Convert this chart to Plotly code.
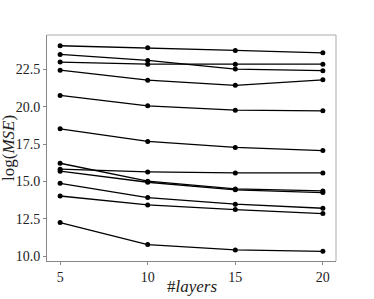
import plotly.graph_objects as go

layers = [5, 10, 15, 20]
series = [
    [24.08, 23.95, 23.77, 23.61],
    [23.50, 23.10, 22.52, 22.41],
    [22.99, 22.85, 22.85, 22.85],
    [22.45, 21.78, 21.43, 21.80],
    [20.76, 20.06, 19.77, 19.73],
    [18.52, 17.68, 17.28, 17.07],
    [16.22, 15.02, 14.50, 14.37],
    [15.82, 15.64, 15.57, 15.57],
    [15.69, 14.95, 14.44, 14.26],
    [14.88, 13.92, 13.48, 13.21],
    [14.03, 13.43, 13.12, 12.85],
    [12.25, 10.78, 10.42, 10.33],
]
xticks = [5, 10, 15, 20]
yticks = [10.0, 12.5, 15.0, 17.5, 20.0, 22.5]
xlabel = "#<i>layers</i>"
ylabel = "log(<i>MSE</i>)"

fig = go.Figure()
for s in series:
    fig.add_trace(go.Scatter(
        x=layers, y=s, mode="lines+markers",
        line=dict(color="black", width=1.3),
        marker=dict(color="black", size=5),
        showlegend=False,
    ))

font = "Liberation Serif"
tickfont = dict(family=font, size=14, color="#222")
fig.update_layout(
    width=374, height=299,
    margin=dict(l=47, r=38, t=35, b=38),
    paper_bgcolor="white", plot_bgcolor="white",
    font=dict(family=font, size=14, color="#222"),
    xaxis=dict(
        range=[4.25, 20.75], tickvals=xticks, ticktext=[str(v) for v in xticks],
        automargin=False, tickfont=tickfont,
        showgrid=False, zeroline=False, showline=True, linecolor="#888", linewidth=1,
        ticks="outside", ticklen=3, tickcolor="#888",
    ),
    yaxis=dict(
        range=[9.68, 24.8], tickvals=yticks, ticktext=[f"{v:.1f}" for v in yticks],
        automargin=False, tickfont=tickfont,
        showgrid=False, zeroline=False, showline=True, linecolor="#888", linewidth=1,
        ticks="outside", ticklen=3, tickcolor="#888",
    ),
)
fig.add_annotation(text=xlabel, xref="paper", yref="paper", x=0.5, y=0,
                   xanchor="center", yanchor="middle", yshift=-25, showarrow=False,
                   font=dict(family=font, size=17, color="#222"))
fig.add_annotation(text=ylabel, xref="paper", yref="paper", x=0, y=0.5,
                   xanchor="center", yanchor="middle", xshift=-39, textangle=-90,
                   showarrow=False, font=dict(family=font, size=17, color="#222"))
fig.add_shape(type="line", xref="paper", yref="paper", x0=0, x1=1, y0=1, y1=1,
              line=dict(color="#aaa", width=1))
fig.add_shape(type="line", xref="paper", yref="paper", x0=1, x1=1, y0=0, y1=1,
              line=dict(color="#aaa", width=1))
fig.write_html("out.html", config={"displayModeBar": False},
               post_script="document.body.style.margin='0';")
